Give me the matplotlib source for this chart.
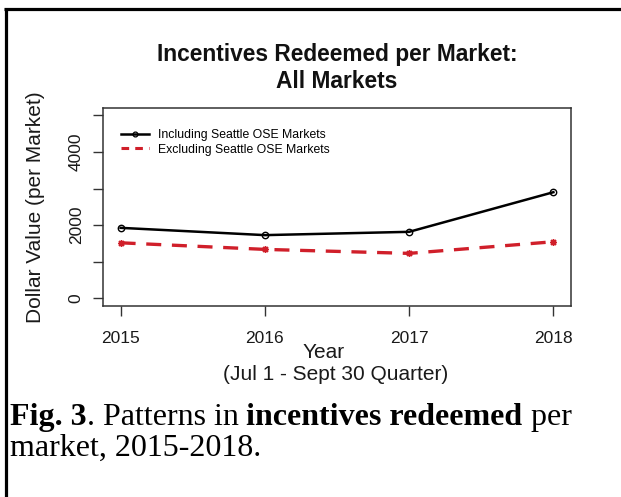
import matplotlib
matplotlib.use("Agg")
import matplotlib.pyplot as plt
from matplotlib.lines import Line2D

years = [2015, 2016, 2017, 2018]
including_ose = [1925, 1726, 1816, 2899]
excluding_ose = [1516, 1336, 1227, 1545]
y_ticks = [0, 1000, 2000, 3000, 4000, 5000]
y_tick_labels = ["0", "", "2000", "", "4000", ""]

W, H = 621, 497
fig = plt.figure(figsize=(W / 100, H / 100), dpi=100)
plt.rcParams["font.family"] = ["Liberation Sans", "DejaVu Sans"]


def fx(px):
    return px / W


def fy(py):
    return 1 - py / H


# plot region
ax = fig.add_axes([fx(103.3), fy(305.6), fx(570.7) - fx(103.3), fy(108) - fy(305.6)])
ax.plot(years, including_ose, color="black", lw=1.8, marker="o", ms=4.6,
        mfc="none", mec="black", mew=1.0)
ax.plot(years, excluding_ose, color="#d01f2a", lw=2.4, dashes=(4.5, 3.2),
        marker=(8, 2, 0), ms=5, mec="#d01f2a", mew=1.0)

ax.set_xlim(2014.88, 2018.12)
ax.set_ylim(-200, 5200)
ax.set_xticks(years)
ax.set_xticklabels([str(y) for y in years])
ax.set_yticks(y_ticks)
ax.set_yticklabels(y_tick_labels, rotation=90, va="center")
for s in ax.spines.values():
    s.set_color("#333333")
    s.set_linewidth(1.1)
ax.tick_params(axis="both", direction="out", length=7, width=1.0,
               colors="#333333", labelcolor="#1a1a1a", labelsize=12.5)
ax.tick_params(axis="x", pad=11)
ax.tick_params(axis="y", pad=7)

ax.set_ylabel("Dollar Value (per Market)", fontsize=15, color="#1a1a1a", labelpad=17.5)

# x-axis title lines
fig.text(fx(324), fy(353), "Year", ha="center", va="center",
         fontsize=15, color="#1a1a1a")
fig.text(fx(336), fy(375), "(Jul 1 - Sept 30 Quarter)", ha="center", va="center",
         fontsize=15, color="#1a1a1a")

handles = [
    Line2D([], [], color="black", lw=1.8, marker="o", ms=3.5, mfc="none", mew=0.9),
    Line2D([], [], color="#d01f2a", lw=2.2, dashes=(2.5, 2.0)),
]
ax.legend(handles, ["Including Seattle OSE Markets", "Excluding Seattle OSE Markets"],
          loc="upper left", bbox_to_anchor=(0.023, 0.93), frameon=False, fontsize=8.8,
          handlelength=2.3, handletextpad=0.7, labelspacing=0.2, borderaxespad=0.2)

# title
fig.text(fx(337), fy(54), "Incentives Redeemed per Market:", ha="center", va="center",
         fontsize=16.4, fontweight="bold", color="#111111")
fig.text(fx(337), fy(81), "All Markets", ha="center", va="center",
         fontsize=16.4, fontweight="bold", color="#111111")

# caption with mixed bold / regular runs
renderer = fig.canvas.get_renderer()
serif = ["Liberation Serif", "DejaVu Serif"]


def draw_runs(runs, x0, ybase):
    x = x0
    for txt, bold in runs:
        t = fig.text(fx(x), fy(ybase), txt, ha="left", va="baseline", fontsize=23,
                     family=serif, fontweight="bold" if bold else "normal", color="black")
        bb = t.get_window_extent(renderer=renderer)
        x += bb.width


draw_runs([("Fig. 3", True), (". Patterns in ", False),
           ("incentives redeemed", True), (" per", False)], 10, 425)
draw_runs([("market, 2015-2018.", False)], 10, 456)

# frame lines around the figure
fig.add_artist(Line2D([fx(5.5), fx(5.5)], [fy(8), 0], color="black", lw=2.3,
                      transform=fig.transFigure, solid_capstyle="butt"))
fig.add_artist(Line2D([fx(4), 1], [fy(8.5), fy(8.5)], color="black", lw=2.3,
                      transform=fig.transFigure, solid_capstyle="butt"))

fig.savefig("out.png", dpi=100)
